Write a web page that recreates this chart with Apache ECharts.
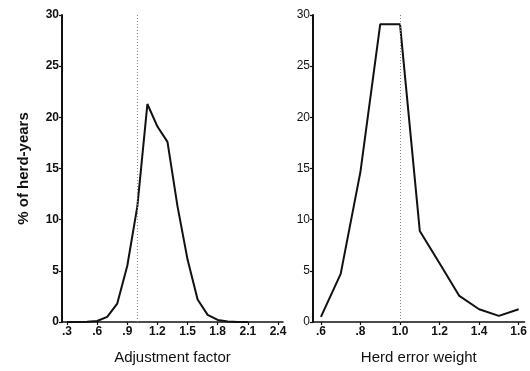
<!DOCTYPE html>
<html><head><meta charset="utf-8">
<script src="https://cdn.jsdelivr.net/npm/echarts@6/dist/echarts.min.js"></script>
<style>html,body{margin:0;padding:0;background:#fff}#c{width:530px;height:371px}</style>
</head><body><div id="c"></div>
<script>
// Left panel: Adjustment factor distribution
const adjX = [0.3,0.4,0.5,0.6,0.7,0.8,0.9,1.0,1.1,1.2,1.3,1.4,1.5,1.6,1.7,1.8,1.9,2.0,2.1];
const adjY = [0,0,0.02,0.1,0.5,1.8,5.5,11.3,21.3,19.1,17.6,11.3,6.1,2.2,0.7,0.2,0.05,0,0];
// Right panel: Herd error weight distribution
const hewX = [0.6,0.7,0.8,0.9,1.0,1.1,1.2,1.3,1.4,1.5,1.6];
const hewY = [0.5,4.7,14.7,29.1,29.1,8.9,5.75,2.55,1.25,0.6,1.25];
// Tick labels
const adjTicks = [0.3,0.6,0.9,1.2,1.5,1.8,2.1,2.4];
const hewTicks = [0.6,0.8,1.0,1.2,1.4,1.6];
const yTicks = [0,5,10,15,20,25,30];
const refLine = 1.0;

const fmt = v => v.toFixed(1).replace(/^0\./, '.');
const font = 'Liberation Sans';
const chart = echarts.init(document.getElementById('c'), null, {renderer:'canvas'});

function xAx(idx, min, max, ticks, name) {
  return {
    type:'value', gridIndex:idx, min:min, max:max,
    name:name, nameLocation:'middle', nameGap:28,
    nameTextStyle:{fontFamily:font, fontSize:15, color:'#111'},
    axisLine:{show:true, onZero:false, lineStyle:{color:'#111', width:1.5}},
    axisTick:{show:true, length:3, customValues:ticks, lineStyle:{color:'#111', width:1.2}},
    axisLabel:{customValues:ticks, formatter:fmt, margin:4, fontFamily:font, fontSize:12, fontWeight:'bold', color:'#111'},
    splitLine:{show:false}
  };
}
function yAx(idx, bold, name) {
  return {
    type:'value', gridIndex:idx, min:0, max:30, interval:5,
    name:name||'', nameLocation:'middle', nameGap:31,
    nameTextStyle:{fontFamily:font, fontSize:15, fontWeight:'bold', color:'#111'},
    axisLine:{show:true, lineStyle:{color:'#111', width:2}},
    axisTick:{show:true, length:3, lineStyle:{color:'#111', width:1.2}},
    axisLabel:{margin:3, fontFamily:font, fontSize:12, fontWeight: bold?'bold':'normal', color:'#111'},
    splitLine:{show:false}
  };
}
function mark() {
  return {silent:true, symbol:'none', label:{show:false},
    lineStyle:{color:'#888', type:[1,2], width:1}, data:[{xAxis:refLine}]};
}
chart.setOption({
  animation:false,
  backgroundColor:'#fff',
  grid:[
    {left:62, right:247, top:15, bottom:49},
    {left:313, right:2, top:15, bottom:49}
  ],
  xAxis:[
    xAx(0, 0.25, 2.45, adjTicks, 'Adjustment factor'),
    xAx(1, 0.56, 1.63, hewTicks, 'Herd error weight')
  ],
  yAxis:[ yAx(0, true, '% of herd-years'), yAx(1, false) ],
  series:[
    {type:'line', xAxisIndex:0, yAxisIndex:0, data:adjX.map((x,i)=>[x,adjY[i]]),
     symbol:'none', lineStyle:{color:'#111', width:2}, markLine:mark()},
    {type:'line', xAxisIndex:1, yAxisIndex:1, data:hewX.map((x,i)=>[x,hewY[i]]),
     symbol:'none', lineStyle:{color:'#111', width:2}, markLine:mark()}
  ]
});
</script></body></html>
